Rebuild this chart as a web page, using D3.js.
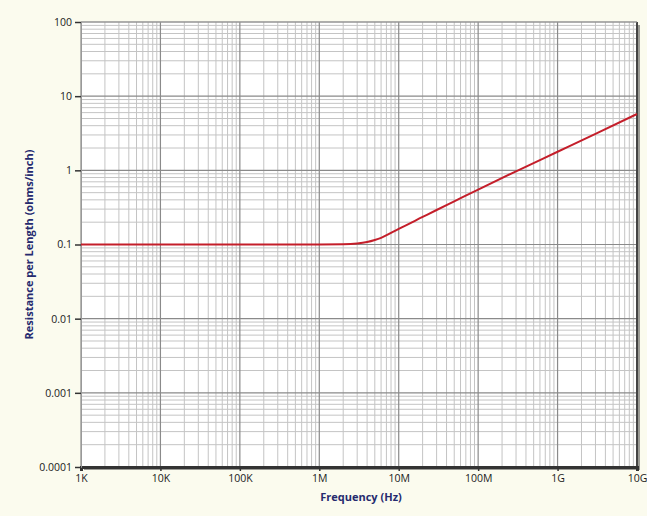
<!DOCTYPE html>
<html>
<head>
<meta charset="utf-8">
<script src="https://cdn.jsdelivr.net/npm/d3@7"></script>
<style>
  body { margin: 0; background: #fbfbee; }
  svg { display: block; }
</style>
</head>
<body>
<svg width="647" height="516"></svg>
<script>
// values
var freqs = [1e3, 1e4, 1e5, 1e6, 2e6, 3e6, 4e6, 5e6, 6e6, 8e6, 1e7, 2e7, 3e7, 5e7, 1e8, 3e8, 1e9, 3e9, 1e10];
var resist = [0.1, 0.1, 0.1, 0.1, 0.1005, 0.103, 0.108, 0.115, 0.123, 0.143, 0.162, 0.235, 0.292, 0.382, 0.55, 0.97, 1.78, 3.1, 5.75];

var xTickVals = [1e3, 1e4, 1e5, 1e6, 1e7, 1e8, 1e9, 1e10];
var xTickLabels = ["1K", "10K", "100K", "1M", "10M", "100M", "1G", "10G"];
var yTickVals = [1e-4, 1e-3, 1e-2, 1e-1, 1, 10, 100];
var yTickLabels = ["0.0001", "0.001", "0.01", "0.1", "1", "10", "100"];

var svg = d3.select("svg");
var margin = {top: 22, right: 10, bottom: 49, left: 81};
var width = 647 - margin.left - margin.right;
var height = 516 - margin.top - margin.bottom;

var g = svg.append("g")
  .attr("transform", "translate(" + margin.left + "," + margin.top + ")");

var x = d3.scaleLog().domain([1e3, 1e10]).range([0, width]);
var y = d3.scaleLog().domain([1e-4, 100]).range([height, 0]);

// shadow on right and bottom
g.append("rect")
  .attr("x", 3).attr("y", 3)
  .attr("width", width).attr("height", height)
  .style("fill", "#9a9a94");

g.append("rect")
  .attr("width", width).attr("height", height)
  .style("fill", "#ffffff");

// minor grid
var minorX = [];
for (var e = 3; e < 10; e++) for (var m = 2; m < 10; m++) minorX.push(m * Math.pow(10, e));
var minorY = [];
for (var e = -4; e < 2; e++) for (var m = 2; m < 10; m++) minorY.push(m * Math.pow(10, e));

g.selectAll(".minx").data(minorX).enter().append("line")
  .attr("x1", function(d) { return x(d); }).attr("x2", function(d) { return x(d); })
  .attr("y1", 0).attr("y2", height)
  .style("stroke", "#c4c4c4").style("stroke-width", 1);

g.selectAll(".miny").data(minorY).enter().append("line")
  .attr("y1", function(d) { return y(d); }).attr("y2", function(d) { return y(d); })
  .attr("x1", 0).attr("x2", width)
  .style("stroke", "#c4c4c4").style("stroke-width", 1);

// major grid
g.selectAll(".majx").data(xTickVals).enter().append("line")
  .attr("x1", function(d) { return x(d); }).attr("x2", function(d) { return x(d); })
  .attr("y1", 0).attr("y2", height)
  .style("stroke", "#8a8a8a").style("stroke-width", 1.2);

g.selectAll(".majy").data(yTickVals).enter().append("line")
  .attr("y1", function(d) { return y(d); }).attr("y2", function(d) { return y(d); })
  .attr("x1", 0).attr("x2", width)
  .style("stroke", "#8a8a8a").style("stroke-width", 1.2);

// frame
g.append("line").attr("x1", width).attr("x2", width).attr("y1", 0).attr("y2", height)
  .style("stroke", "#444").style("stroke-width", 2);
g.append("line").attr("x1", 0).attr("x2", width).attr("y1", 0).attr("y2", 0)
  .style("stroke", "#999").style("stroke-width", 1);

// axes
var xAxis = d3.axisBottom(x).tickValues(xTickVals).tickSize(4).tickPadding(4)
  .tickFormat(function(d, i) { return xTickLabels[i]; });
var yAxis = d3.axisLeft(y).tickValues(yTickVals).tickSize(6).tickPadding(3)
  .tickFormat(function(d, i) { return yTickLabels[i]; });

var gx = g.append("g").attr("transform", "translate(0," + height + ")").call(xAxis);
var gy = g.append("g").call(yAxis);

gx.select(".domain").style("stroke", "#333").style("stroke-width", 3);
gy.select(".domain").style("stroke", "#999").style("stroke-width", 1);
gx.selectAll(".tick line").style("stroke", "#333").style("stroke-width", 1.5);
gy.selectAll(".tick line").style("stroke", "#333").style("stroke-width", 1.5);
[gx, gy].forEach(function(a) {
  a.selectAll("text")
    .style("font-family", "'Open Sans', sans-serif")
    .style("font-size", "10.5px")
    .style("fill", "#1a1a1a");
});

// data line
var line = d3.line()
  .x(function(d, i) { return x(freqs[i]); })
  .y(function(d) { return y(d); })
  .curve(d3.curveMonotoneX);

g.append("path")
  .datum(resist)
  .style("fill", "none")
  .style("stroke", "#c41e2a")
  .style("stroke-width", 2)
  .attr("d", line);

// axis titles
svg.append("text")
  .attr("x", margin.left + width / 2 + 2)
  .attr("y", 501)
  .attr("text-anchor", "middle")
  .style("font-family", "'Open Sans', sans-serif")
  .style("font-size", "11px")
  .style("font-weight", "bold")
  .style("fill", "#252a6e")
  .text("Frequency (Hz)");

svg.append("text")
  .attr("transform", "translate(33," + (margin.top + height / 2) + ") rotate(-90)")
  .attr("text-anchor", "middle")
  .style("font-family", "'Open Sans', sans-serif")
  .style("font-size", "11px")
  .style("font-weight", "bold")
  .style("fill", "#252a6e")
  .text("Resistance per Length (ohms/inch)");
</script>
</body>
</html>
